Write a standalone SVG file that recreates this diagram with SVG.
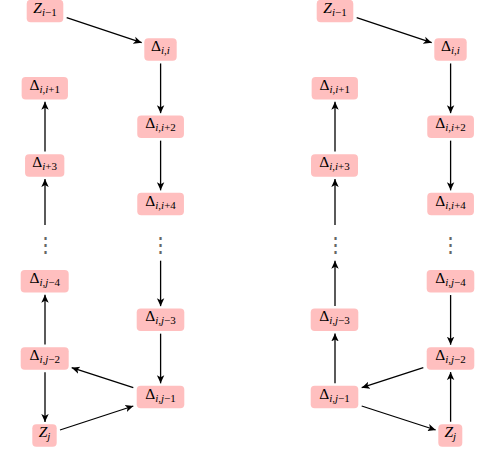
<svg xmlns="http://www.w3.org/2000/svg" width="477" height="457" viewBox="0 0 477 457">
<style>
.box{fill:#ffbfbf;stroke:none}
.t{font-family:"Liberation Serif","Times New Roman",serif;font-size:15.5px;fill:#000;text-anchor:middle}
.s{font-size:11px}
.it{font-style:italic}
.dots{font-family:"DejaVu Sans",sans-serif;font-size:21px;font-weight:200;fill:#666;text-anchor:middle}
.e{stroke:#000;stroke-width:1.3;fill:none;marker-end:url(#ah)}
</style>
<defs>
<marker id="ah" markerUnits="userSpaceOnUse" markerWidth="12" markerHeight="10" viewBox="0 -5 12 10" refX="8" refY="0" orient="auto">
<path d="M8,0 L0,-3.7 L2,0 L0,3.7 Z" fill="#000"/>
</marker>
</defs>
<g id="left">
<g id="L-Zim1"><rect class="box" x="26.7" y="-0.25" width="36.6" height="22.5" rx="4"/><text class="t" x="45" y="12.5"><tspan class="it">Z</tspan><tspan class="s" dy="3"><tspan class="it">i</tspan>−1</tspan></text></g>
<g id="L-Dii"><rect class="box" x="144.3" y="38.35" width="32.4" height="22.5" rx="4"/><text class="t" x="160.5" y="51.1">Δ<tspan class="s" dy="3"><tspan class="it">i</tspan>,<tspan class="it">i</tspan></tspan></text></g>
<g id="L-Dii1"><rect class="box" x="21.65" y="76.95" width="46.3" height="22.5" rx="4"/><text class="t" x="44.8" y="89.7">Δ<tspan class="s" dy="3"><tspan class="it">i</tspan>,<tspan class="it">i</tspan>+1</tspan></text></g>
<g id="L-Dii2"><rect class="box" x="137.25" y="115.55" width="46.7" height="22.5" rx="4"/><text class="t" x="160.6" y="128.3">Δ<tspan class="s" dy="3"><tspan class="it">i</tspan>,<tspan class="it">i</tspan>+2</tspan></text></g>
<g id="L-Di3"><rect class="box" x="25.05" y="154.15" width="39.3" height="22.5" rx="4"/><text class="t" x="44.7" y="166.9">Δ<tspan class="s" dy="3"><tspan class="it">i</tspan>+3</tspan></text></g>
<g id="L-Dii4"><rect class="box" x="137.25" y="192.75" width="46.7" height="22.5" rx="4"/><text class="t" x="160.6" y="205.5">Δ<tspan class="s" dy="3"><tspan class="it">i</tspan>,<tspan class="it">i</tspan>+4</tspan></text></g>
<g id="L-dotsL"><text class="dots" x="45" y="251.5">⋮</text></g>
<g id="L-dotsR"><text class="dots" x="160.6" y="251.5">⋮</text></g>
<g id="L-Dij4"><rect class="box" x="20.7" y="269.95" width="48" height="22.5" rx="4"/><text class="t" x="44.7" y="282.7">Δ<tspan class="s" dy="3"><tspan class="it">i</tspan>,<tspan class="it">j</tspan>−4</tspan></text></g>
<g id="L-Dij3"><rect class="box" x="136.7" y="308.55" width="47.6" height="22.5" rx="4"/><text class="t" x="160.5" y="321.3">Δ<tspan class="s" dy="3"><tspan class="it">i</tspan>,<tspan class="it">j</tspan>−3</tspan></text></g>
<g id="L-Dij2"><rect class="box" x="20.7" y="347.15" width="48" height="22.5" rx="4"/><text class="t" x="44.7" y="359.9">Δ<tspan class="s" dy="3"><tspan class="it">i</tspan>,<tspan class="it">j</tspan>−2</tspan></text></g>
<g id="L-Dij1"><rect class="box" x="136.7" y="385.75" width="47.6" height="22.5" rx="4"/><text class="t" x="160.5" y="398.5">Δ<tspan class="s" dy="3"><tspan class="it">i</tspan>,<tspan class="it">j</tspan>−1</tspan></text></g>
<g id="L-Zj"><rect class="box" x="32.3" y="424.35" width="24.4" height="22.5" rx="4"/><text class="t" x="44.5" y="437.1"><tspan class="it">Z</tspan><tspan class="s it" dy="3">j</tspan></text></g>
</g>
<g id="right">
<g id="R-Zim1"><rect class="box" x="316.7" y="-0.25" width="36.6" height="22.5" rx="4"/><text class="t" x="335" y="12.5"><tspan class="it">Z</tspan><tspan class="s" dy="3"><tspan class="it">i</tspan>−1</tspan></text></g>
<g id="R-Dii"><rect class="box" x="434.3" y="38.35" width="32.4" height="22.5" rx="4"/><text class="t" x="450.5" y="51.1">Δ<tspan class="s" dy="3"><tspan class="it">i</tspan>,<tspan class="it">i</tspan></tspan></text></g>
<g id="R-Dii1"><rect class="box" x="311.65" y="76.95" width="46.3" height="22.5" rx="4"/><text class="t" x="334.8" y="89.7">Δ<tspan class="s" dy="3"><tspan class="it">i</tspan>,<tspan class="it">i</tspan>+1</tspan></text></g>
<g id="R-Dii2"><rect class="box" x="427.25" y="115.55" width="46.7" height="22.5" rx="4"/><text class="t" x="450.6" y="128.3">Δ<tspan class="s" dy="3"><tspan class="it">i</tspan>,<tspan class="it">i</tspan>+2</tspan></text></g>
<g id="R-Dii3"><rect class="box" x="311" y="154.15" width="47" height="22.5" rx="4"/><text class="t" x="334.5" y="166.9">Δ<tspan class="s" dy="3"><tspan class="it">i</tspan>,<tspan class="it">i</tspan>+3</tspan></text></g>
<g id="R-Dii4"><rect class="box" x="427.25" y="192.75" width="46.7" height="22.5" rx="4"/><text class="t" x="450.6" y="205.5">Δ<tspan class="s" dy="3"><tspan class="it">i</tspan>,<tspan class="it">i</tspan>+4</tspan></text></g>
<g id="R-dotsL"><text class="dots" x="335" y="251.5">⋮</text></g>
<g id="R-dotsR"><text class="dots" x="450.6" y="251.5">⋮</text></g>
<g id="R-Dij4"><rect class="box" x="426.7" y="269.95" width="47.6" height="22.5" rx="4"/><text class="t" x="450.5" y="282.7">Δ<tspan class="s" dy="3"><tspan class="it">i</tspan>,<tspan class="it">j</tspan>−4</tspan></text></g>
<g id="R-Dij3"><rect class="box" x="310.7" y="308.55" width="47.6" height="22.5" rx="4"/><text class="t" x="334.5" y="321.3">Δ<tspan class="s" dy="3"><tspan class="it">i</tspan>,<tspan class="it">j</tspan>−3</tspan></text></g>
<g id="R-Dij2"><rect class="box" x="426.7" y="347.15" width="47.6" height="22.5" rx="4"/><text class="t" x="450.5" y="359.9">Δ<tspan class="s" dy="3"><tspan class="it">i</tspan>,<tspan class="it">j</tspan>−2</tspan></text></g>
<g id="R-Dij1"><rect class="box" x="310.7" y="385.75" width="47.6" height="22.5" rx="4"/><text class="t" x="334.5" y="398.5">Δ<tspan class="s" dy="3"><tspan class="it">i</tspan>,<tspan class="it">j</tspan>−1</tspan></text></g>
<g id="R-Zj"><rect class="box" x="438.3" y="424.35" width="24" height="22.5" rx="4"/><text class="t" x="450.3" y="437.1"><tspan class="it">Z</tspan><tspan class="s it" dy="3">j</tspan></text></g>
</g>
<g id="connectors">
<line class="e" x1="66.7" y1="17.7" x2="141.7" y2="42.7"/>
<line class="e" x1="160.6" y1="63.45" x2="160.6" y2="113.15"/>
<line class="e" x1="160.6" y1="140.65" x2="160.6" y2="190.35"/>
<line class="e" x1="160.6" y1="260.7" x2="160.6" y2="306.15"/>
<line class="e" x1="160.6" y1="333.65" x2="160.6" y2="383.35"/>
<line class="e" x1="133.3" y1="387.7" x2="71.7" y2="367.7"/>
<line class="e" x1="60" y1="430" x2="133.3" y2="406"/>
<line class="e" x1="45" y1="372.25" x2="45" y2="421.95"/>
<line class="e" x1="45" y1="344.55" x2="45" y2="294.85"/>
<line class="e" x1="45" y1="225" x2="45" y2="179.05"/>
<line class="e" x1="45" y1="151.55" x2="45" y2="101.85"/>
<line class="e" x1="356.7" y1="17.7" x2="431.7" y2="42.7"/>
<line class="e" x1="450.6" y1="63.45" x2="450.6" y2="113.15"/>
<line class="e" x1="450.6" y1="140.65" x2="450.6" y2="190.35"/>
<line class="e" x1="450.6" y1="295.05" x2="450.6" y2="344.75"/>
<line class="e" x1="450.6" y1="421.75" x2="450.6" y2="372.05"/>
<line class="e" x1="423.3" y1="367.7" x2="361.7" y2="387.7"/>
<line class="e" x1="361.7" y1="406" x2="435.7" y2="430"/>
<line class="e" x1="335" y1="383.15" x2="335" y2="333.45"/>
<line class="e" x1="335" y1="305.95" x2="335" y2="260.7"/>
<line class="e" x1="335" y1="225" x2="335" y2="179.05"/>
<line class="e" x1="335" y1="151.55" x2="335" y2="101.85"/>
</g>
</svg>
